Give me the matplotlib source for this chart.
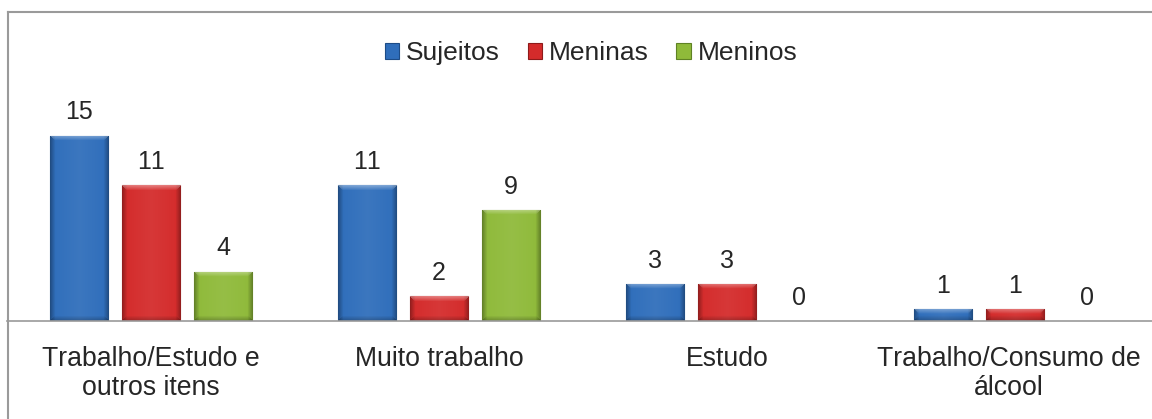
import matplotlib
matplotlib.use("Agg")
import matplotlib.pyplot as plt
from matplotlib.lines import Line2D
from matplotlib.colors import to_rgb
import matplotlib.transforms as mtransforms
import numpy as np

categories = ["Trabalho/Estudo e\noutros itens", "Muito trabalho", "Estudo", "Trabalho/Consumo de\nálcool"]
series_names = ["Sujeitos", "Meninas", "Meninos"]
sujeitos = [15, 11, 3, 1]
meninas = [11, 2, 3, 1]
meninos = [4, 9, 0, 0]

face_colors = ["#2F6EBB", "#D42B2B", "#8FBA3A"]
edge_colors = ["#1D4C87", "#8E1A1A", "#5F8224"]

plt.rcParams['font.family'] = ['Liberation Sans', 'DejaVu Sans']
plt.rcParams['text.kerning_factor'] = 10
text_color = "#262626"

W, H = 1152, 419
AX_H_PX = 321 - 12
YMAX = 25
fig = plt.figure(figsize=(W / 100, H / 100), dpi=100)

ax = fig.add_axes([7 / W, (H - 321) / H, 1152 / W, AX_H_PX / H])

x = np.arange(len(categories))
pitch = 0.25
width = 0.202
all_vals = [sujeitos, meninas, meninos]


def bevel_image(color, height_px, width_px=58, bev=5):
    base = np.array(to_rgb(color))
    ny = max(int(round(height_px)), 2)
    nx = width_px
    img = np.tile(base, (ny, nx, 1))
    yy, xx = np.mgrid[0:ny, 0:nx]
    dl = xx / bev
    dr = (nx - 1 - xx) / bev
    dh = np.clip(np.minimum(dl, dr), 0, 1)
    shade = 0.70 + 0.30 * dh
    img = img * shade[..., None]
    dt = np.clip(yy / bev, 0, 1)
    light = (1 - dt) * 0.35
    mask_top = (yy < bev) & (np.minimum(dl, dr) >= yy / bev)
    img = np.where(mask_top[..., None], img + (1 - img) * light[..., None], img)
    db = np.clip((ny - 1 - yy) / bev, 0, 1)
    mask_bot = (yy > ny - 1 - bev) & (np.minimum(dl, dr) >= (ny - 1 - yy) / bev)
    img = np.where(mask_bot[..., None], img * (0.75 + 0.25 * db)[..., None], img)
    cx = np.abs(xx - (nx - 1) / 2) / ((nx - 1) / 2)
    img = img + (1 - img) * (0.06 * (1 - cx))[..., None]
    return np.clip(img, 0, 1)


handles = []
for i, (vals, name) in enumerate(zip(all_vals, series_names)):
    pos = x + (i - 1) * pitch
    lws = [0.8 if v > 0 else 0 for v in vals]
    bars = ax.bar(pos, vals, width=width, color=face_colors[i], edgecolor=edge_colors[i],
                  linewidth=lws, label=name, zorder=3)
    handles.append(bars)
    for rect, p, v in zip(bars, pos, vals):
        if v > 0:
            hpx = v * AX_H_PX / YMAX
            im = ax.imshow(bevel_image(face_colors[i], hpx), extent=(p - width / 2, p + width / 2, 0, v),
                           aspect="auto", zorder=4, interpolation="bilinear", origin="upper")
            im.set_clip_path(rect)
        ax.text(p, v + 0.9, str(v), ha="center", va="bottom", fontsize=18, color=text_color)

ax.set_xlim(-0.5, 3.5)
ax.set_ylim(0, YMAX)

for s in ["top", "left", "right"]:
    ax.spines[s].set_visible(False)
ax.spines["bottom"].set_color("#9a9a9a")
ax.spines["bottom"].set_linewidth(1.2)
ax.spines["bottom"].set_zorder(5)
ax.set_yticks([])
ax.set_xticks(x)
ax.set_xticklabels(categories, fontsize=19.2, color=text_color, linespacing=1.17)
ax.tick_params(axis="x", length=0, pad=18)
last = ax.get_xticklabels()[-1]
last.set_transform(last.get_transform() + mtransforms.ScaledTranslation(-6 / 100, 0, fig.dpi_scale_trans))

leg = ax.legend(handles=handles, labels=series_names, loc="center",
                bbox_to_anchor=(0.507, 1 - (53 - 12) / AX_H_PX), bbox_transform=ax.transAxes,
                ncol=3, frameon=False, fontsize=19, handlelength=0.55, handleheight=0.55,
                handletextpad=0.25, columnspacing=1.05, labelcolor=text_color)

# outer chart border (top and left)
fig.add_artist(Line2D([8 / W, 8 / W], [0, (H - 12) / H], transform=fig.transFigure,
                      color="#9a9a9a", linewidth=1.5))
fig.add_artist(Line2D([8 / W, 1], [(H - 12) / H, (H - 12) / H], transform=fig.transFigure,
                      color="#9a9a9a", linewidth=1.5))

fig.savefig("out.png", dpi=100)
